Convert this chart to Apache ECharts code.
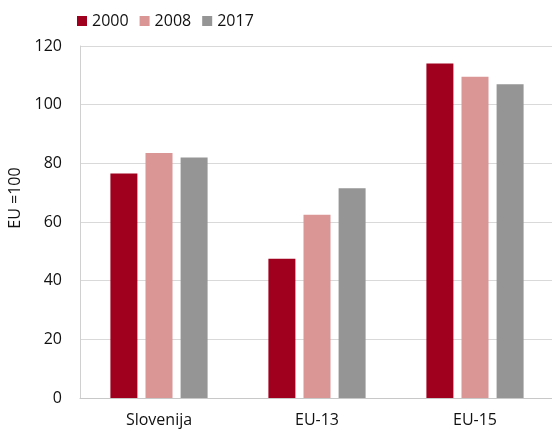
<!DOCTYPE html>
<html>
<head>
<meta charset="utf-8">
<script src="https://cdn.jsdelivr.net/npm/echarts@6/dist/echarts.min.js"></script>
<style>
  html, body { margin: 0; padding: 0; background: #fff; }
  #chart { width: 552px; height: 431px; }
</style>
</head>
<body>
<div id="chart"></div>
<script>
// categories and values
var categories = ['Slovenija', 'EU-13', 'EU-15'];
var years = ['2000', '2008', '2017'];
var v2000 = [76.5, 47.5, 114];
var v2008 = [83.5, 62.5, 109.5];
var v2017 = [82, 71.5, 107];
var yTicks = [0, 20, 40, 60, 80, 100, 120];

var colors = ['#a0001e', '#da9694', '#959595'];
var font = 'Open Sans';
var txt = '#111';

var chart = echarts.init(document.getElementById('chart'));
var seriesData = [v2000, v2008, v2017];

chart.setOption({
  animation: false,
  color: colors,
  textStyle: { fontFamily: font },
  legend: {
    data: years,
    left: 72,
    top: 8,
    itemWidth: 10,
    itemHeight: 10,
    itemGap: 11,
    icon: 'rect',
    textStyle: { fontSize: 16, color: txt, fontFamily: font }
  },
  grid: { left: 80, top: 46, width: 474, bottom: 33, outerBoundsMode: 'none' },
  xAxis: {
    type: 'category',
    data: categories,
    axisLine: { lineStyle: { color: '#c8c8c8', width: 1 } },
    axisTick: { show: false },
    axisLabel: { fontSize: 16, color: txt, margin: 14, fontFamily: font }
  },
  yAxis: {
    type: 'value',
    min: yTicks[0],
    max: yTicks[yTicks.length - 1],
    interval: 20,
    name: 'EU =100',
    nameLocation: 'middle',
    nameGap: 56,
    nameTextStyle: { fontSize: 16, color: txt, fontFamily: font, padding: [0, 0, 0, 48] },
    axisLine: { show: true, lineStyle: { color: '#d0d0d0' } },
    axisTick: { show: false },
    splitLine: { lineStyle: { color: '#d9d9d9', width: 1 } },
    axisLabel: { fontSize: 16, color: txt, margin: 18, fontFamily: font }
  },
  series: years.map(function (y, i) {
    return {
      name: y,
      type: 'bar',
      data: seriesData[i],
      barWidth: 27,
      barGap: '30%'
    };
  })
});
</script>
</body>
</html>
